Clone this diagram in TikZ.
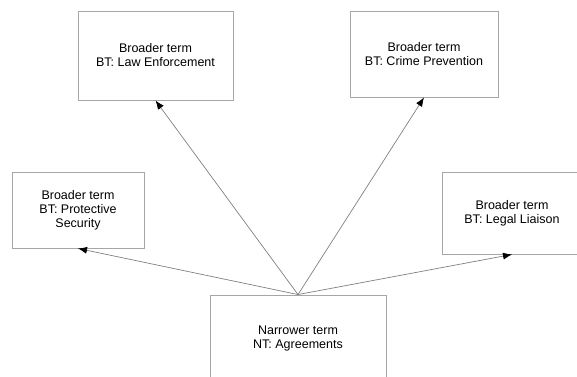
\documentclass[tikz,border=0pt]{standalone}
\usepackage{fontspec}
\setmainfont{Liberation Sans}
\usetikzlibrary{arrows.meta}
\tikzset{
  termbox/.style={draw=black!35, line width=0.9pt, align=center, inner sep=0pt,
    font=\fontsize{12.5}{14}\selectfont},
  bt/.style={draw=black!50, line width=0.7pt, -{Latex[black,length=9pt,width=7pt]}}
}
\begin{document}
\begin{tikzpicture}[x=1pt, y=-1pt]

        \useasboundingbox (0,0) rectangle (577,376);
        \clip (0,0) rectangle (577,376);

        \node[termbox, minimum width=155pt, minimum height=89pt] (law) at (155.5,55.5) {Broader term\\BT: Law Enforcement};
        \node[termbox, minimum width=148pt, minimum height=86pt] (crime) at (424,54) {Broader term\\BT: Crime Prevention};
        \node[termbox, minimum width=132pt, minimum height=76pt] (prot) at (78,210) {Broader term\\BT: Protective\\Security};
        \node[termbox, minimum width=140pt, minimum height=82pt] (legal) at (512,213) {Broader term\\BT: Legal Liaison};

        \node[termbox, minimum width=176pt, minimum height=86pt] (narrow) at (298,338) {Narrower term\\NT: Agreements};

        \draw[bt] (narrow.north) -- (law.south);
        \draw[bt] (narrow.north) -- (crime.south);
        \draw[bt] (narrow.north) -- (prot.south);
        \draw[bt] (narrow.north) -- (legal.south);

\end{tikzpicture}
\end{document}
